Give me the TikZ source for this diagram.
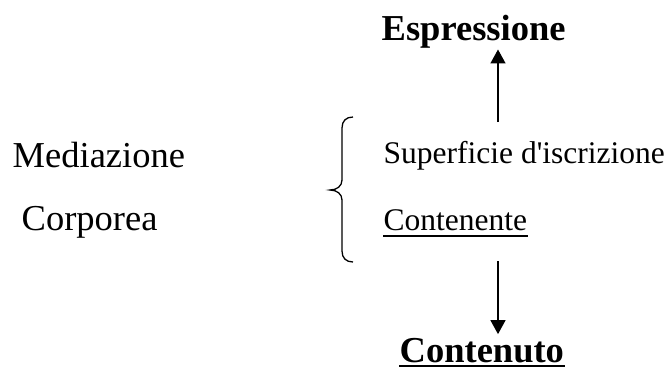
\documentclass[tikz,border=0pt]{standalone}
\usepackage{fontspec}
\setmainfont{Liberation Serif}
\usetikzlibrary{arrows.meta}

\begin{document}
\begin{tikzpicture}[x=1pt, y=-1pt, line width=1.4pt,
		>={Triangle[width=15pt,length=14pt]},
		big/.style={anchor=base west, inner sep=0pt, font=\fontsize{36.5}{40}\selectfont},
		small/.style={anchor=base west, inner sep=0pt, font=\fontsize{31.5}{36}\selectfont},
		head/.style={big, font=\fontsize{36.5}{40}\selectfont\bfseries}]
	
	\useasboundingbox (0,0) rectangle (670,367);
	
	\node[big] (med) at (12,167) {Mediazione};
	\node[big] (corp) at (21,230) {Corporea};
	
	\node[small] (sup) at (383,163) {Superficie d\textquotesingle iscrizione};
	\node[small] (cont) at (383,230) {Contenente};
	\draw[line width=1.2pt] ([yshift=-6pt]cont.base west) -- ([yshift=-6pt]cont.base east);
	
	\node[head] (espr) at (381,40) {Espressione};
	\node[head] (conten) at (399,362) {Contenuto};
	\draw[line width=2pt] ([yshift=-3.5pt]conten.base west) -- ([yshift=-3.5pt]conten.base east);
	
	% brace
	\draw[line width=1.3pt] (353,117) .. controls (346,117) and (342,121) .. (342,128)
		-- (342,180) .. controls (342,186) and (337,190) .. (330,190)
		.. controls (337,190) and (342,194) .. (342,200)
		-- (342,251) .. controls (342,258) and (346,262) .. (353,262);
	
	% arrows
	\coordinate (upfoot) at (498,122);
	\coordinate (downtop) at (498,261);
	\draw[->] (upfoot) -- ([yshift=-1pt]upfoot |- espr.south);
	\draw[->] (downtop) -- ([yshift=3pt]downtop |- conten.north);
	
\end{tikzpicture}
\end{document}
